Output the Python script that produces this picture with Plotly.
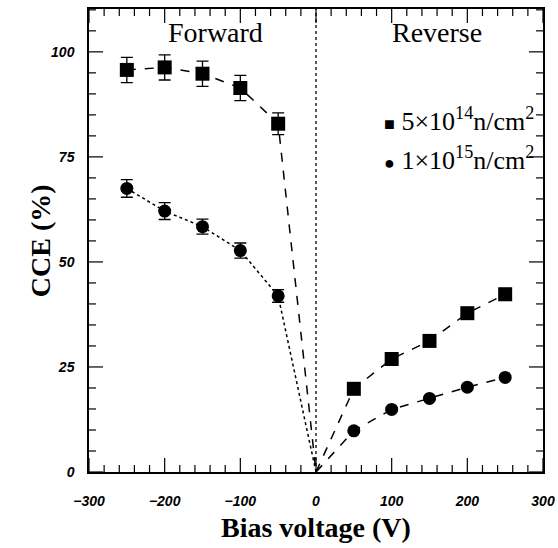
import plotly.graph_objects as go

# Data
fwd_v = [-250, -200, -150, -100, -50]
rev_v = [50, 100, 150, 200, 250]
sq_fwd = [95.7, 96.3, 94.8, 91.4, 82.9]
sq_fwd_err = [3.0, 3.0, 3.0, 3.0, 2.6]
sq_rev = [19.8, 26.9, 31.2, 37.8, 42.3]
sq_rev_err = [0.5, 0.5, 0.5, 0.6, 1.4]
ci_fwd = [67.5, 62.1, 58.4, 52.7, 41.9]
ci_fwd_err = [2.1, 2.0, 1.8, 1.8, 1.5]
ci_rev = [9.8, 14.9, 17.5, 20.2, 22.5]
ci_rev_err = [0.3, 0.3, 0.3, 0.3, 0.4]
origin_v = [0]
origin_cce = [0]
x_range = [-300, 300]
y_range = [0, 110.2]
x_major = [-300, -200, -100, 0, 100, 200, 300]
x_minor = [v for v in range(-300, 301, 20) if v % 100 != 0]
y_major = [0, 25, 50, 75, 100]
y_minor = [v for v in range(0, 111, 5) if v % 25 != 0]

fig = go.Figure()

# inward tick marks: edge markers clipped by the plot area
def xtick_marks(vals, size):
    for yv in y_range:
        fig.add_trace(go.Scatter(x=vals, y=[yv] * len(vals), mode="markers",
                                 marker=dict(symbol="line-ns", size=size,
                                             line=dict(color="black", width=1.2)),
                                 cliponaxis=True, showlegend=False, hoverinfo="skip"))

def ytick_marks(vals, size):
    for xv in x_range:
        fig.add_trace(go.Scatter(x=[xv] * len(vals), y=vals, mode="markers",
                                 marker=dict(symbol="line-ew", size=size,
                                             line=dict(color="black", width=1.2)),
                                 cliponaxis=True, showlegend=False, hoverinfo="skip"))

xtick_marks(x_major, 20)
xtick_marks(x_minor, 10)
ytick_marks(y_major, 20)
ytick_marks(y_minor, 10)

def line(x, y, dash):
    fig.add_trace(go.Scatter(x=x, y=y, mode="lines",
                             line=dict(color="black", width=1.5, dash=dash),
                             showlegend=False, hoverinfo="skip"))

line(fwd_v + origin_v, sq_fwd + origin_cce, "dash")
line(origin_v + rev_v, origin_cce + sq_rev, "dash")
line(fwd_v + origin_v, ci_fwd + origin_cce, "dot")
line(origin_v + rev_v, origin_cce + ci_rev, "dash")

def pts(x, y, err, symbol, size):
    fig.add_trace(go.Scatter(x=x, y=y, mode="markers",
                             marker=dict(symbol=symbol, size=size, color="black"),
                             error_y=dict(type="data", array=err, color="black",
                                          thickness=1.3, width=6),
                             showlegend=False))

pts(fwd_v, sq_fwd, sq_fwd_err, "square", 14)
pts(rev_v, sq_rev, sq_rev_err, "square", 14)
pts(fwd_v, ci_fwd, ci_fwd_err, "circle", 13)
pts(rev_v, ci_rev, ci_rev_err, "circle", 13)

tickfont = dict(family="Liberation Sans", size=14, color="black",
                weight="bold", style="italic")

fig.update_layout(
    xaxis=dict(range=x_range, tickvals=x_major,
               showline=True, linecolor="black", linewidth=1.5, mirror=True,
               ticks="", showgrid=False, zeroline=False, tickfont=tickfont,
               ticklabelstandoff=15),
    yaxis=dict(range=y_range, tickvals=y_major,
               showline=True, linecolor="black", linewidth=1.5, mirror=True,
               ticks="", showgrid=False, zeroline=False, tickfont=tickfont,
               ticklabelstandoff=10),
)

fig.add_shape(type="line", x0=0, x1=0, y0=0, y1=1, xref="x", yref="paper",
              line=dict(color="black", width=1.3, dash="dot"))

title_font = dict(family="Liberation Serif", size=28, color="black")
fig.add_annotation(x=0.5, y=-0.119, xref="paper", yref="paper", yanchor="middle",
                   text="<b>Bias voltage (V)</b>", showarrow=False, font=title_font)
fig.add_annotation(x=-0.145, y=0.5, xref="paper", yref="paper", textangle=-90,
                   text="<b>CCE (%)</b>", showarrow=False, font=title_font)

serif = dict(family="Liberation Serif", size=28, color="black")
fig.add_annotation(x=-133, y=104.5, text="Forward", showarrow=False, font=serif,
                   xref="x", yref="y")
fig.add_annotation(x=160, y=104.5, text="Reverse", showarrow=False, font=serif,
                   xref="x", yref="y")
fig.add_annotation(x=0.985, y=84, xref="paper", yref="y", xanchor="right",
                   text="<span style='font-size:18px'>■</span> 5×10<sup>14</sup>n/cm<sup>2</sup>",
                   showarrow=False, font=dict(family="Liberation Serif", size=26, color="black"))
fig.add_annotation(x=0.985, y=74.5, xref="paper", yref="y", xanchor="right",
                   text="<span style='font-size:18px'>●</span> 1×10<sup>15</sup>n/cm<sup>2</sup>",
                   showarrow=False, font=dict(family="Liberation Serif", size=26, color="black"))

fig.update_layout(width=558, height=548, margin=dict(l=89, r=15, t=9, b=76, autoexpand=False),
                  plot_bgcolor="white", paper_bgcolor="white", showlegend=False)

fig.write_html("out.html", config={"displayModeBar": False},
               post_script="document.body.style.margin='0';document.body.style.overflow='hidden';")
